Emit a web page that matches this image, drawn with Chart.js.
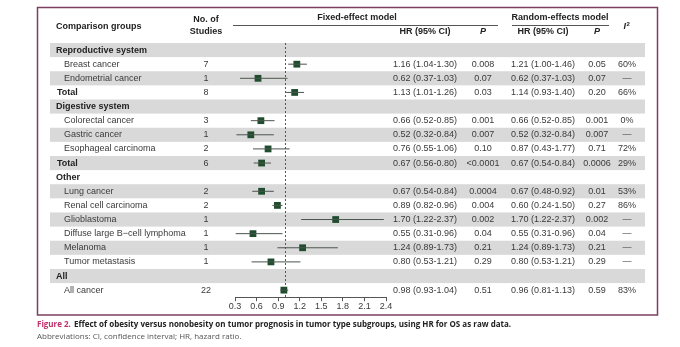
<!DOCTYPE html>
<html>
<head>
<meta charset="utf-8">
<script src="https://cdn.jsdelivr.net/npm/chart.js@4"></script>
<style>
  html, body { margin: 0; padding: 0; background: #fff; }
  canvas { display: block; }
</style>
</head>
<body>
<canvas id="forest" width="680" height="347"></canvas>
<script>
// --- DATA ---
const groups = ['Reproductive system', 'Breast cancer', 'Endometrial cancer', 'Total',
  'Digestive system', 'Colorectal cancer', 'Gastric cancer', 'Esophageal carcinoma', 'Total',
  'Other', 'Lung cancer', 'Renal cell carcinoma', 'Glioblastoma', 'Diffuse large B\u2212cell lymphoma',
  'Melanoma', 'Tumor metastasis', 'All', 'All cancer'];
const rowKind = ['section', 'item', 'item', 'total', 'section', 'item', 'item', 'item', 'total',
  'section', 'item', 'item', 'item', 'item', 'item', 'item', 'section', 'item'];
const studies = [null, 7, 1, 8, null, 3, 1, 2, 6, null, 2, 2, 1, 1, 1, 1, null, 22];
const hrFixed = [null, 1.16, 0.62, 1.13, null, 0.66, 0.52, 0.76, 0.67, null, 0.67, 0.89, 1.70, 0.55, 1.24, 0.80, null, 0.98];
const ciLow   = [null, 1.04, 0.37, 1.01, null, 0.52, 0.32, 0.55, 0.56, null, 0.54, 0.82, 1.22, 0.31, 0.89, 0.53, null, 0.93];
const ciHigh  = [null, 1.30, 1.03, 1.26, null, 0.85, 0.84, 1.06, 0.80, null, 0.84, 0.96, 2.37, 0.96, 1.73, 1.21, null, 1.04];
const pFixed  = ['', '0.008', '0.07', '0.03', '', '0.001', '0.007', '0.10', '<0.0001', '', '0.0004', '0.004', '0.002', '0.04', '0.21', '0.29', '', '0.51'];
const hrRandom = ['', '1.21 (1.00-1.46)', '0.62 (0.37-1.03)', '1.14 (0.93-1.40)', '', '0.66 (0.52-0.85)', '0.52 (0.32-0.84)',
  '0.87 (0.43-1.77)', '0.67 (0.54-0.84)', '', '0.67 (0.48-0.92)', '0.60 (0.24-1.50)', '1.70 (1.22-2.37)',
  '0.55 (0.31-0.96)', '1.24 (0.89-1.73)', '0.80 (0.53-1.21)', '', '0.96 (0.81-1.13)'];
const pRandom = ['', '0.05', '0.07', '0.20', '', '0.001', '0.007', '0.71', '0.0006', '', '0.01', '0.27', '0.002', '0.04', '0.21', '0.29', '', '0.59'];
const iSquared = ['', '60%', '\u2014', '66%', '', '0%', '\u2014', '72%', '29%', '', '53%', '86%', '\u2014', '\u2014', '\u2014', '\u2014', '', '83%'];
const xTicks = [0.3, 0.6, 0.9, 1.2, 1.5, 1.8, 2.1, 2.4];
const refLine = 1;

// --- STYLE ---
const FONT = '"Liberation Sans", Arial, sans-serif';
const TXT = '#3a3a3a';
const BAND = '#d9d9d9';
const MARK = '#1f4d2e';
const cols = { name: 56, indent: 64, studies: 206, hrF: 425, pF: 483, hrR: 543, pR: 597, i2: 627 };

const ciText = i => `${hrFixed[i].toFixed(2)} (${ciLow[i].toFixed(2)}-${ciHigh[i].toFixed(2)})`;

// --- PLUGIN: table, bands, header, caption ---
const tablePlugin = {
  id: 'table',
  beforeDraw(chart) {
    const { ctx, scales: { y } } = chart;
    ctx.save();
    ctx.fillStyle = '#fff';
    ctx.fillRect(0, 0, chart.width, chart.height);
    const h = Math.abs(y.getPixelForValue(1) - y.getPixelForValue(0));
    ctx.fillStyle = BAND;
    groups.forEach((g, i) => {
      if (i % 2 === 0) ctx.fillRect(50, y.getPixelForValue(i) - h / 2, 595, h);
    });
    ctx.restore();
  },
  beforeDatasetsDraw(chart) {
    const { ctx, chartArea, scales: { x } } = chart;
    const px = Math.round(x.getPixelForValue(refLine)) + 0.5;
    ctx.save();
    ctx.strokeStyle = '#555';
    ctx.lineWidth = 1;
    ctx.setLineDash([2, 2]);
    ctx.beginPath();
    ctx.moveTo(px, chartArea.top);
    ctx.lineTo(px, chartArea.bottom);
    ctx.stroke();
    ctx.restore();
  },
  afterDraw(chart) {
    const { ctx, scales: { y } } = chart;
    ctx.save();
    ctx.textBaseline = 'middle';
    ctx.fillStyle = TXT;
    const txt = (s, x, yy, align = 'center', weight = '', style = '') => {
      ctx.font = `${style} ${weight} 9px ${FONT}`;
      ctx.textAlign = align;
      ctx.fillText(s, x, yy);
    };

    // header
    ctx.fillStyle = '#222';
    txt('Comparison groups', cols.name, 27, 'left', 'bold');
    txt('No. of', cols.studies, 20, 'center', 'bold');
    txt('Studies', cols.studies, 32, 'center', 'bold');
    txt('Fixed-effect model', 357, 18, 'center', 'bold');
    txt('Random-effects model', 560, 18, 'center', 'bold');
    txt('HR (95% CI)', cols.hrF, 32, 'center', 'bold');
    txt('P', cols.pF, 32, 'center', 'bold', 'italic');
    txt('HR (95% CI)', cols.hrR, 32, 'center', 'bold');
    txt('P', cols.pR, 32, 'center', 'bold', 'italic');
    txt('I', cols.i2 - 1, 27, 'right', 'bold', 'italic');
    ctx.font = `bold 6px ${FONT}`;
    ctx.textAlign = 'left';
    ctx.fillText('2', cols.i2 - 0.5, 24);

    ctx.strokeStyle = '#555';
    ctx.lineWidth = 1;
    ctx.beginPath();
    ctx.moveTo(233, 25.5); ctx.lineTo(498, 25.5);
    ctx.moveTo(512, 25.5); ctx.lineTo(609, 25.5);
    ctx.stroke();

    // rows
    groups.forEach((g, i) => {
      const yy = y.getPixelForValue(i);
      ctx.fillStyle = rowKind[i] === 'item' ? TXT : '#222';
      if (rowKind[i] === 'section') { txt(g, cols.name, yy, 'left', 'bold'); return; }
      if (rowKind[i] === 'total') txt(g, cols.name + 1, yy, 'left', 'bold');
      else txt(g, cols.indent, yy, 'left');
      ctx.fillStyle = TXT;
      txt(String(studies[i]), cols.studies, yy);
      txt(ciText(i), cols.hrF, yy);
      txt(pFixed[i], cols.pF, yy);
      txt(hrRandom[i], cols.hrR, yy);
      txt(pRandom[i], cols.pR, yy);
      ctx.fillStyle = iSquared[i] === '\u2014' ? '#555' : TXT;
      txt(iSquared[i], cols.i2, yy);
    });

    // frame
    ctx.strokeStyle = '#7b3f5f';
    ctx.lineWidth = 1.5;
    ctx.strokeRect(37.5, 7.5, 620, 307.5);

    // caption
    ctx.textAlign = 'left';
    ctx.font = `bold 8px "Open Sans", sans-serif`;
    ctx.fillStyle = '#c0306a';
    const lab = 'Figure 2.';
    ctx.fillText(lab, 37, 325);
    const w = ctx.measureText(lab + ' ').width;
    ctx.fillStyle = '#222';
    ctx.fillText('Effect of obesity versus nonobesity on tumor prognosis in tumor type subgroups, using HR for OS as raw data.', 37 + w + 1, 325);
    ctx.font = `8px "Open Sans", sans-serif`;
    ctx.fillStyle = '#555';
    ctx.fillText('Abbreviations: CI, confidence interval; HR, hazard ratio.', 37, 337);
    ctx.restore();
  }
};

// --- DATASETS ---
const ciSets = groups.map((g, i) => hrFixed[i] == null ? null : {
  type: 'line',
  data: [{ x: ciLow[i], y: i }, { x: ciHigh[i], y: i }],
  borderColor: '#4b554e',
  borderWidth: 1,
  pointRadius: 0,
  showLine: true,
  clip: false
}).filter(Boolean);

const pointSet = {
  type: 'scatter',
  data: groups.map((g, i) => hrFixed[i] == null ? null : { x: hrFixed[i], y: i }).filter(Boolean),
  pointStyle: 'rect',
  pointRadius: 4.8,
  backgroundColor: MARK,
  borderColor: MARK,
  borderWidth: 0,
  clip: false
};

new Chart(document.getElementById('forest'), {
  type: 'scatter',
  data: { datasets: [...ciSets, pointSet] },
  options: {
    responsive: false,
    animation: false,
    devicePixelRatio: 1,
    layout: { padding: { left: 235, right: 294, top: 43, bottom: 35 } },
    plugins: { legend: { display: false }, tooltip: { enabled: false } },
    scales: {
      x: {
        type: 'linear',
        min: xTicks[0],
        max: xTicks[xTicks.length - 1],
        afterBuildTicks: axis => { axis.ticks = xTicks.map(v => ({ value: v })); },
        ticks: { padding: 0, color: TXT, font: { family: FONT, size: 9 }, callback: v => v.toFixed(1), maxRotation: 0, autoSkip: false },
        grid: { drawOnChartArea: false, drawTicks: true, tickLength: 4, color: '#555' },
        border: { color: '#555', width: 1 }
      },
      y: {
        type: 'linear',
        display: false,
        reverse: true,
        min: -0.5,
        max: groups.length - 0.5
      }
    }
  },
  plugins: [tablePlugin]
});
</script>
</body>
</html>
